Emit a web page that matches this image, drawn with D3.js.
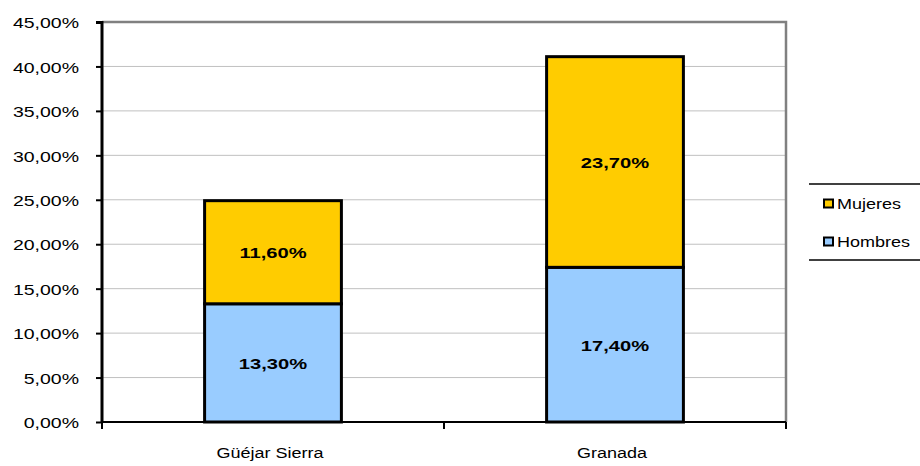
<!DOCTYPE html>
<html>
<head>
<meta charset="utf-8">
<script src="https://cdn.jsdelivr.net/npm/d3@7"></script>
<style>
  body { margin: 0; background: #fff; }
  text { font-family: "Liberation Sans", Arial, sans-serif; fill: #000; }
</style>
</head>
<body>
<div id="chart"></div>
<script>
const categories = ['Güéjar Sierra', 'Granada'];
const hombres = [13.3, 17.4];
const mujeres = [11.6, 23.7];
const seriesNames = ['Mujeres', 'Hombres'];
const seriesColours = ['#ffcc00', '#99ccff'];
const yTicks = [0, 5, 10, 15, 20, 25, 30, 35, 40, 45];

const margin = { top: 22, right: 134, bottom: 44, left: 102 };
const fullWidth = 920;
const fullHeight = 466;
const width = fullWidth - margin.left - margin.right;
const height = fullHeight - margin.top - margin.bottom;

const fmt = v => d3.format('.2f')(v).replace('.', ',') + '%';

// wide looking text, like the original picture
function wideText(sel, x, y, str, size, sx, anchor, weight) {
  return sel.append('text')
    .attr('transform', 'translate(' + x + ',' + y + ') scale(' + sx + ',1)')
    .attr('text-anchor', anchor)
    .attr('dominant-baseline', 'central')
    .style('font-size', size + 'px')
    .style('font-weight', weight || 'normal')
    .text(str);
}

const svg = d3.select('#chart').append('svg')
  .attr('width', fullWidth)
  .attr('height', fullHeight);

const g = svg.append('g')
  .attr('transform', 'translate(' + margin.left + ',' + margin.top + ')');

const yScale = d3.scaleLinear()
  .domain([0, 45])
  .range([height, 0]);

const xScale = d3.scaleBand()
  .domain(categories)
  .range([0, width])
  .paddingInner(0.6)
  .paddingOuter(0.3);

const step = xScale.step();

// gridlines
g.selectAll('.grid')
  .data(yTicks.slice(1))
  .enter().append('line')
  .attr('x1', 0)
  .attr('x2', width)
  .attr('y1', d => yScale(d))
  .attr('y2', d => yScale(d))
  .attr('stroke', '#c0c0c0')
  .attr('stroke-width', 1);

// plot area border (top and right)
g.append('path')
  .attr('d', 'M0,' + yScale(45) + 'H' + width + 'V' + yScale(0))
  .attr('fill', 'none')
  .attr('stroke', '#808080')
  .attr('stroke-width', 2.5);

// stacked bars
const stackData = categories.map((c, i) => ({ cat: c, Hombres: hombres[i], Mujeres: mujeres[i] }));
const stack = d3.stack().keys(['Hombres', 'Mujeres'])(stackData);
const colour = d3.scaleOrdinal().domain(seriesNames).range(seriesColours);

stack.forEach(layer => {
  const lg = g.append('g');
  lg.selectAll('rect')
    .data(layer)
    .enter().append('rect')
    .attr('x', d => xScale(d.data.cat))
    .attr('width', xScale.bandwidth())
    .attr('y', d => yScale(d[1]))
    .attr('height', d => yScale(d[0]) - yScale(d[1]))
    .attr('fill', colour(layer.key))
    .attr('stroke', '#000')
    .attr('stroke-width', 3);
  layer.forEach(d => {
    wideText(lg, xScale(d.data.cat) + xScale.bandwidth() / 2,
      (yScale(d[0]) + yScale(d[1])) / 2 + 1,
      fmt(d[1] - d[0]), 15.5, 1.3, 'middle', 'bold');
  });
});

// y axis
const yAxis = d3.axisLeft(yScale)
  .tickValues(yTicks)
  .tickSize(6)
  .tickFormat('');
const ya = g.append('g').call(yAxis);
ya.select('.domain').attr('stroke-width', 3).attr('d', 'M-6,0.5H0V' + height);
ya.selectAll('line').attr('stroke-width', 2);
yTicks.forEach(t => wideText(g, -23, yScale(t) + 1, fmt(t), 15, 1.3, 'end'));

// x axis
const xa = g.append('g')
  .attr('transform', 'translate(0,' + height + ')');
xa.append('line')
  .attr('x1', 0).attr('x2', width)
  .attr('stroke', '#000').attr('stroke-width', 2);
xa.selectAll('.tick')
  .data(d3.range(categories.length + 1))
  .enter().append('line')
  .attr('x1', d => d * step).attr('x2', d => d * step)
  .attr('y1', 0).attr('y2', 7)
  .attr('stroke', '#000').attr('stroke-width', 2);
categories.forEach(c => wideText(xa, xScale(c) + xScale.bandwidth() / 2 - 3, 31, c, 15, 1.2, 'middle'));

// legend
const legend = svg.append('g').attr('transform', 'translate(809,184)');
legend.append('line').attr('x1', 0).attr('x2', 111).attr('y1', 0).attr('y2', 0)
  .attr('stroke', '#000').attr('stroke-width', 1.5);
legend.append('line').attr('x1', 0).attr('x2', 111).attr('y1', 76).attr('y2', 76)
  .attr('stroke', '#000').attr('stroke-width', 1.5);
seriesNames.forEach((s, i) => {
  const ly = 19 + i * 38;
  legend.append('rect')
    .attr('x', 15).attr('y', ly - 3.5)
    .attr('width', 9).attr('height', 8)
    .attr('fill', colour(s))
    .attr('stroke', '#000')
    .attr('stroke-width', 2);
  wideText(legend, 28, ly + 1, s, 15, 1.2, 'start');
});
</script>
</body>
</html>
